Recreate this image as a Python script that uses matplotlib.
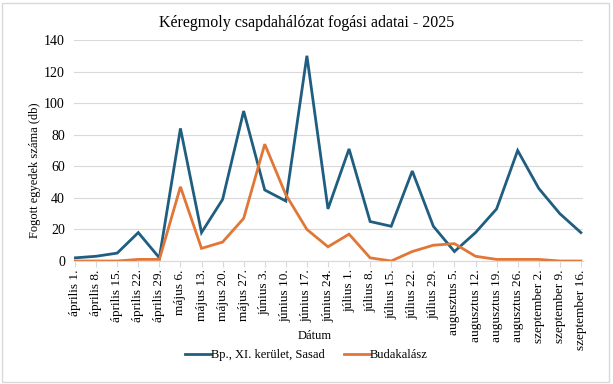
import matplotlib
matplotlib.use("Agg")
import matplotlib.pyplot as plt
from matplotlib.patches import Rectangle

dates = ["április 1.", "április 8.", "április 15.", "április 22.", "április 29.",
         "május 6.", "május 13.", "május 20.", "május 27.",
         "június 3.", "június 10.", "június 17.", "június 24.",
         "július 1.", "július 8.", "július 15.", "július 22.", "július 29.",
         "augusztus 5.", "augusztus 12.", "augusztus 19.", "augusztus 26.",
         "szeptember 2.", "szeptember 9.", "szeptember 16."]
sasad = [2, 3, 5, 18, 2, 84, 18, 39, 95, 45, 38, 130, 33,
         71, 25, 22, 57, 22, 6, 18, 33, 70, 46, 30, 18]
budakalasz = [0, 0, 0, 1, 1, 47, 8, 12, 27, 74, 42, 20, 9,
              17, 2, 0, 6, 10, 11, 3, 1, 1, 1, 0, 0]

plt.rcParams["font.family"] = ["Liberation Serif", "DejaVu Serif"]

fig = plt.figure(figsize=(6.13, 3.84), dpi=100)
ax = fig.add_axes([74 / 613, 123 / 384, 509 / 613, 221 / 384])

x = range(len(dates))
ax.plot(x, sasad, color="#1F5E80", lw=2.0, label="Bp., XI. kerület, Sasad",
        solid_joinstyle="miter")
ax.plot(x, budakalasz, color="#E27636", lw=2.0, label="Budakalász",
        solid_joinstyle="miter")

ax.set_xlim(-0.05, len(dates) - 0.9)
ax.set_ylim(0, 140)
ax.set_yticks(range(0, 141, 20))
ax.set_xticks(list(x))
ax.set_xticklabels(dates, rotation=90, fontsize=9.5)
ax.tick_params(axis="y", length=0, labelsize=10, pad=6.5)
ax.tick_params(axis="x", length=4, color="#d9d9d9", pad=2)
ax.grid(axis="y", color="#d9d9d9", lw=0.8)
ax.set_axisbelow(True)
for side in ["top", "right", "left"]:
    ax.spines[side].set_visible(False)
ax.spines["bottom"].set_color("#d9d9d9")

fig.text(0.5, 1 - 23 / 384, "Kéregmoly csapdahálózat fogási adatai - 2025",
         ha="center", va="center", fontsize=11.5)
fig.text(35 / 613, 1 - 170 / 384, "Fogott egyedek száma (db)", rotation=90,
         ha="center", va="center", fontsize=9)
fig.text(315 / 613, 1 - 336 / 384, "Dátum", ha="center", va="center", fontsize=9)

fig.legend(loc="center", bbox_to_anchor=(0.5, 1 - 355 / 384), ncol=2,
           frameon=False, fontsize=9, handlelength=2.1, handletextpad=0.0,
           columnspacing=1.5)

fig.patches.append(Rectangle((0.003, 0.005), 0.99, 0.988, transform=fig.transFigure,
                             fill=False, edgecolor="#d9d9d9", lw=1))

fig.savefig("out.png", dpi=100)
